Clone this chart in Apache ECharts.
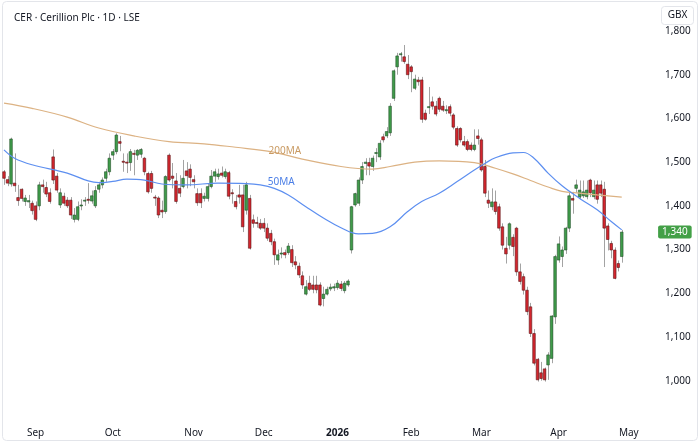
<!DOCTYPE html>
<html>
<head>
<meta charset="utf-8">
<title>CER · Cerillion Plc · 1D · LSE</title>
<script src="https://cdn.jsdelivr.net/npm/echarts@6/dist/echarts.min.js"></script>
<style>
  html, body { margin: 0; padding: 0; background: #fff; }
  #chart { width: 700px; height: 443px; }
</style>
</head>
<body>
<div id="chart"></div>
<script>
// daily candles from 18 Aug 2025, LSE calendar
const firstDay = '2025-08-18'
const holidays = ['2025-08-25', '2025-12-25', '2025-12-26', '2026-01-01', '2026-04-03', '2026-04-06', '2026-05-04']
const emptyDays = 9 // free space right of the last bar
const monthNames = ['Jan', 'Feb', 'Mar', 'Apr', 'May', 'Jun', 'Jul', 'Aug', 'Sep', 'Oct', 'Nov', 'Dec']

const opens = [
  1478, 1460, 1450, 1452, 1419, 1438, 1410, 1409, 1406, 1400,
  1400, 1448, 1442, 1430, 1512, 1468, 1402, 1422, 1413, 1413,
  1369, 1369, 1400, 1413, 1415, 1411, 1400, 1438, 1448, 1463,
  1478, 1516, 1524, 1547, 1502, 1500, 1499, 1520, 1516, 1518,
  1509, 1474, 1474, 1420, 1418, 1390, 1387, 1516, 1468, 1457,
  1440, 1444, 1480, 1484, 1460, 1428, 1428, 1417, 1417, 1444,
  1468, 1467, 1475, 1467, 1476, 1430, 1410, 1425, 1425, 1390,
  1417, 1368, 1362, 1360, 1360, 1349, 1337, 1318, 1276, 1290,
  1293, 1293, 1300, 1272, 1262, 1240, 1198, 1223, 1219, 1219,
  1219, 1188, 1198, 1210, 1212, 1213, 1221, 1206, 1219, 1299,
  1402, 1406, 1459, 1497, 1499, 1490, 1520, 1512, 1558, 1560,
  1567, 1646, 1718, 1746, 1741, 1724, 1718, 1669, 1688, 1688,
  1612, 1625, 1638, 1628, 1646, 1628, 1619, 1627, 1608, 1577,
  1577, 1547, 1547, 1539, 1529, 1560, 1551, 1490, 1413, 1398,
  1409, 1398, 1352, 1303, 1310, 1328, 1349, 1249, 1238, 1207,
  1169, 1108, 1049, 1018, 1027, 1036, 1051, 1146, 1276, 1284,
  1299, 1349, 1417, 1440, 1420, 1423, 1421, 1459, 1421, 1448,
  1448, 1438, 1354, 1314, 1299, 1268, 1284
]
const closes = [
  1463, 1452, 1553, 1446, 1412, 1417, 1418, 1412, 1389, 1369,
  1448, 1444, 1427, 1410, 1459, 1436, 1430, 1406, 1400, 1379,
  1379, 1398, 1402, 1413, 1413, 1423, 1435, 1448, 1459, 1478,
  1509, 1524, 1562, 1543, 1500, 1499, 1524, 1518, 1527, 1529,
  1478, 1432, 1440, 1418, 1379, 1386, 1467, 1459, 1463, 1410,
  1429, 1463, 1469, 1465, 1455, 1407, 1407, 1422, 1444, 1468,
  1478, 1473, 1470, 1478, 1422, 1428, 1398, 1420, 1352, 1448,
  1303, 1360, 1360, 1349, 1349, 1326, 1318, 1288, 1288, 1292,
  1288, 1308, 1270, 1265, 1242, 1219, 1215, 1209, 1209, 1208,
  1173, 1198, 1209, 1214, 1215, 1223, 1211, 1223, 1228, 1398,
  1428, 1459, 1490, 1500, 1491, 1509, 1522, 1543, 1551, 1570,
  1628, 1709, 1743, 1748, 1730, 1700, 1707, 1690, 1684, 1598,
  1598, 1627, 1628, 1610, 1621, 1619, 1620, 1612, 1580, 1539,
  1551, 1539, 1529, 1529, 1539, 1554, 1482, 1429, 1406, 1409,
  1387, 1349, 1310, 1290, 1359, 1307, 1249, 1227, 1207, 1158,
  1108, 1040, 1002, 1005, 1002, 1059, 1148, 1284, 1313, 1299,
  1349, 1423, 1413, 1448, 1436, 1432, 1436, 1430, 1436, 1415,
  1429, 1349, 1323, 1299, 1234, 1259, 1340
]
const lows = [
  1448, 1445, 1444, 1432, 1400, 1410, 1400, 1395, 1380, 1365,
  1390, 1430, 1420, 1405, 1450, 1430, 1395, 1400, 1395, 1370,
  1362, 1365, 1390, 1400, 1405, 1405, 1395, 1430, 1440, 1455,
  1470, 1505, 1518, 1525, 1478, 1475, 1480, 1470, 1505, 1510,
  1470, 1428, 1430, 1400, 1372, 1372, 1382, 1455, 1440, 1405,
  1420, 1440, 1440, 1445, 1440, 1400, 1395, 1410, 1410, 1440,
  1455, 1460, 1465, 1462, 1415, 1405, 1392, 1405, 1340, 1380,
  1300, 1350, 1350, 1345, 1340, 1320, 1310, 1265, 1265, 1280,
  1280, 1288, 1260, 1255, 1235, 1210, 1195, 1205, 1200, 1200,
  1170, 1170, 1195, 1205, 1205, 1208, 1205, 1200, 1215, 1291,
  1398, 1400, 1450, 1470, 1470, 1480, 1500, 1505, 1545, 1555,
  1560, 1640, 1700, 1730, 1725, 1690, 1660, 1665, 1675, 1590,
  1595, 1610, 1620, 1605, 1615, 1615, 1610, 1605, 1575, 1535,
  1545, 1535, 1525, 1525, 1525, 1540, 1478, 1420, 1395, 1390,
  1380, 1343, 1300, 1268, 1300, 1285, 1240, 1220, 1197, 1150,
  1100, 1035, 998, 1000, 998, 1002, 1040, 1130, 1270, 1260,
  1290, 1340, 1382, 1430, 1415, 1418, 1415, 1420, 1415, 1405,
  1420, 1260, 1298, 1280, 1232, 1250, 1270
]
const highs = [
  1482, 1468, 1556, 1520, 1448, 1440, 1425, 1425, 1412, 1410,
  1455, 1460, 1455, 1440, 1529, 1475, 1440, 1430, 1420, 1420,
  1395, 1410, 1415, 1420, 1452, 1435, 1445, 1455, 1465, 1485,
  1520, 1530, 1566, 1560, 1520, 1520, 1530, 1528, 1530, 1532,
  1512, 1478, 1480, 1425, 1422, 1412, 1470, 1520, 1498, 1475,
  1470, 1505, 1500, 1495, 1470, 1440, 1440, 1430, 1450, 1482,
  1485, 1485, 1490, 1485, 1480, 1438, 1425, 1448, 1448, 1455,
  1425, 1380, 1375, 1370, 1372, 1360, 1345, 1325, 1300, 1305,
  1300, 1315, 1310, 1285, 1270, 1250, 1230, 1240, 1240, 1240,
  1225, 1215, 1215, 1222, 1222, 1230, 1228, 1228, 1232, 1400,
  1430, 1465, 1500, 1509, 1510, 1515, 1532, 1550, 1565, 1580,
  1635, 1712, 1750, 1752, 1768, 1745, 1722, 1700, 1695, 1695,
  1620, 1672, 1650, 1640, 1650, 1640, 1630, 1632, 1612, 1582,
  1580, 1560, 1552, 1545, 1575, 1575, 1556, 1505, 1435, 1440,
  1435, 1405, 1360, 1329, 1362, 1335, 1352, 1268, 1245, 1215,
  1178, 1118, 1052, 1043, 1030, 1065, 1150, 1288, 1330, 1307,
  1352, 1430, 1432, 1460, 1458, 1458, 1458, 1462, 1458, 1458,
  1458, 1455, 1360, 1320, 1305, 1275, 1345
]

// moving averages at [bar index, value]
const ma50 = [
  [0, 1528], [3, 1509], [8, 1494], [18, 1475], [24, 1457], [27, 1453], [31, 1456],
  [35, 1461], [40, 1459], [45, 1450], [52, 1448], [61, 1452], [69, 1451], [73, 1448],
  [77, 1440], [81, 1425], [86, 1398], [91, 1372], [96, 1350], [101, 1336], [105, 1337],
  [110, 1352], [115, 1387], [119, 1410], [124, 1429], [129, 1455], [134, 1482], [137, 1497],
  [140, 1510], [145, 1521], [148, 1522], [151, 1509], [155, 1475], [159, 1446], [164, 1417],
  [169, 1391], [173, 1364], [176, 1345]
]
const ma200 = [
  [0, 1635], [8, 1623], [18, 1603], [27, 1578], [37, 1560], [47, 1547], [57, 1542],
  [66, 1534], [76, 1524], [85, 1507], [96, 1490], [105, 1484], [110, 1490], [117, 1500],
  [124, 1503], [134, 1499], [140, 1486], [145, 1473], [150, 1458], [155, 1443], [159, 1433],
  [164, 1429], [169, 1425], [176, 1420]
]

const upColor = '#3f9c4a'
const upEdge = '#24502a'
const downColor = '#d4262e'
const downEdge = '#5c1518'
const wickColor = '#a3a3a3'
const textColor = '#131722'

// trading days (weekdays minus holidays)
const tradingDays = (start, count) => {
  const out = []
  const d = new Date(start + 'T00:00:00Z')
  while (out.length < count) {
    const iso = d.toISOString().slice(0, 10)
    const wd = d.getUTCDay()
    if (wd !== 0 && wd !== 6 && !holidays.includes(iso)) out.push(iso)
    d.setUTCDate(d.getUTCDate() + 1)
  }
  return out
}

const dates = tradingDays(firstDay, opens.length + emptyDays)
const isMonthStart = (i) => i > 0 && dates[i].slice(0, 7) !== dates[i - 1].slice(0, 7)
const candles = opens.map((o, i) => [i, o, closes[i], lows[i], highs[i]])
const lastClose = closes[closes.length - 1]

const renderCandle = (params, api) => {
  const i = api.value(0)
  const o = api.value(1)
  const c = api.value(2)
  const top = api.coord([i, Math.max(o, c)])
  const bottom = api.coord([i, Math.min(o, c)])
  const high = api.coord([i, api.value(4)])
  const low = api.coord([i, api.value(3)])
  const w = api.size([1, 0])[0] * 0.74
  const up = c >= o
  const x = Math.round(top[0]) + 0.5
  return {
    type: 'group',
    children: [
      {
        type: 'line',
        shape: { x1: x, y1: high[1], x2: x, y2: low[1] },
        style: { stroke: wickColor, lineWidth: 1 }
      },
      {
        type: 'rect',
        shape: { x: top[0] - w / 2, y: top[1], width: w, height: Math.max(bottom[1] - top[1], 1) },
        style: { fill: up ? upColor : downColor, stroke: up ? upEdge : downEdge, lineWidth: 0.6 }
      }
    ]
  }
}

const chart = echarts.init(document.getElementById('chart'))

chart.setOption({
  animation: false,
  textStyle: { fontFamily: 'Noto Sans, sans-serif' },
  title: {
    text: 'CER · Cerillion Plc · 1D · LSE',
    left: 9,
    top: 8,
    textStyle: { fontSize: 10, fontWeight: 'normal', color: textColor }
  },
  grid: { left: 2.25, right: 44.9, top: 5, bottom: 18.6 },
  xAxis: {
    type: 'category',
    data: dates,
    boundaryGap: true,
    axisLine: { show: false },
    axisTick: { show: false },
    splitLine: { show: false },
    axisLabel: {
      interval: (i) => isMonthStart(i),
      margin: 4,
      fontSize: 10,
      color: textColor,
      formatter: (value) => {
        const m = +value.slice(5, 7)
        return m === 1 ? '{year|' + value.slice(0, 4) + '}' : monthNames[m - 1]
      },
      rich: { year: { fontSize: 10, fontWeight: 'bold', color: textColor } }
    }
  },
  yAxis: {
    type: 'value',
    position: 'right',
    min: 900,
    max: 1859.5,
    interval: 100,
    axisLine: { show: false },
    axisTick: { show: false },
    splitLine: { show: false },
    axisLabel: {
      showMinLabel: false,
      showMaxLabel: false,
      margin: 10,
      fontSize: 10,
      color: textColor,
      formatter: (v) => v.toLocaleString('en-US')
    }
  },
  series: [
    {
      type: 'custom',
      name: 'CER',
      data: candles,
      encode: { x: 0, y: [1, 2, 3, 4] },
      renderItem: renderCandle
    },
    {
      type: 'line',
      name: '200MA',
      data: ma200,
      smooth: 0.4,
      showSymbol: false,
      lineStyle: { color: '#dcb283', width: 1.2 },
      markPoint: {
        symbol: 'rect',
        symbolSize: 1,
        itemStyle: { color: 'transparent' },
        label: { show: true, position: 'inside', formatter: '200MA', color: '#c99a62', fontSize: 10 },
        data: [{ coord: [80, 1524] }]
      }
    },
    {
      type: 'line',
      name: '50MA',
      data: ma50,
      smooth: 0.4,
      showSymbol: false,
      lineStyle: { color: '#5d8ff0', width: 1.2 },
      markPoint: {
        symbol: 'rect',
        symbolSize: 1,
        itemStyle: { color: 'transparent' },
        label: { show: true, position: 'inside', formatter: '50MA', color: '#4c7fe6', fontSize: 10 },
        data: [{ coord: [79, 1455] }]
      },
      markLine: {
        silent: true,
        symbol: ['none', 'none'],
        lineStyle: { color: 'rgba(0,0,0,0)', width: 0, type: 'solid' },
        label: {
          show: true,
          position: 'end',
          distance: 3,
          formatter: lastClose.toLocaleString('en-US'),
          backgroundColor: '#43a047',
          color: '#fff',
          fontSize: 10,
          padding: [2, 4, 1, 4],
          borderRadius: 2
        },
        data: [{ yAxis: lastClose }]
      }
    }
  ],
  graphic: [
    {
      type: 'rect',
      shape: { x: 2.5, y: 1.5, width: 695, height: 439, r: 4 },
      style: { fill: 'none', stroke: '#e3e5ea', lineWidth: 1 },
      silent: true
    },
    {
      type: 'group',
      left: 661,
      top: 6,
      children: [
        {
          type: 'rect',
          shape: { x: 0, y: 0, width: 32, height: 18, r: 3 },
          style: { fill: '#fff', stroke: '#e3e5ea', lineWidth: 1 }
        },
        {
          type: 'text',
          x: 16,
          y: 9,
          style: { text: 'GBX', fontSize: 10, fill: textColor, align: 'center', verticalAlign: 'middle', fontFamily: 'Noto Sans' }
        }
      ]
    }
  ]
})

window.addEventListener('resize', () => chart.resize())
</script>
</body>
</html>
